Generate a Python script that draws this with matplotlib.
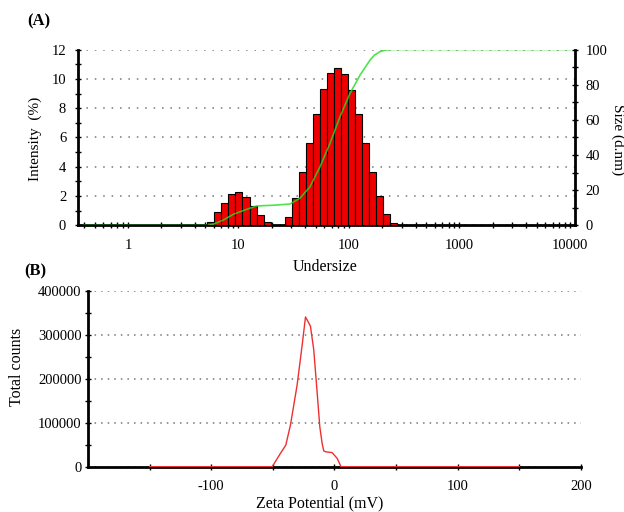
import matplotlib
matplotlib.use('Agg')
import matplotlib.pyplot as plt
import numpy as np
from matplotlib.ticker import FixedLocator, MultipleLocator, LogLocator, NullFormatter, FixedFormatter

plt.rcParams['font.family'] = ['Liberation Serif', 'DejaVu Serif']
plt.rcParams['axes.unicode_minus'] = False

# ---------------- Panel A data ----------------
size_nm = [5.615, 6.503, 7.531, 8.721, 10.10, 11.70, 13.54, 15.69, 18.17,
           24.36, 28.21, 32.67, 37.84, 43.82, 50.75, 58.77, 68.06, 78.82,
           91.28, 105.7, 122.4, 141.8, 164.2, 190.1, 220.2, 255.0]
intensity_pct = [0.26, 0.9, 1.51, 2.13, 2.26, 1.96, 1.35, 0.72, 0.22,
                 0.03, 0.6, 1.9, 3.63, 5.6, 7.6, 9.3, 10.37, 10.74,
                 10.33, 9.24, 7.58, 5.6, 3.65, 2.0, 0.8, 0.15]
bin_ratio = 1.158

cum_size = [0.4, 5.3, 5.9, 7.3, 9.0, 11.9, 14.6, 20.7, 29.2, 36.0, 44.4,
            54.7, 67.3, 82.9, 102, 126, 155, 170, 191, 210, 235, 10000]
cum_pct = [0, 0, 0.7, 3.1, 6.4, 9.2, 11.1, 11.5, 12.2, 15.5, 22,
           33.4, 46.7, 61.8, 75, 85.5, 94, 96.8, 98.8, 99.6, 100, 100]

a_xticks = [1, 10, 100, 1000, 10000]
a_xticklabels = ['1', '10', '100', '1000', '10000']
a_yticks = [0, 2, 4, 6, 8, 10, 12]
a_rticks = [0, 20, 40, 60, 80, 100]

# ---------------- Panel B data ----------------
zeta_mv = [-150, -50.5, -43.8, -39.5, -35.7, -30.3, -26.2, -23.5, -20.8,
           -19.5, -16.8, -14, -11.9, -10, -8.7, -7.3, -1.9, 2.2, 5.3, 150]
total_counts = [0, 0, 30500, 49000, 95000, 186000, 277000, 341000, 327000,
                320000, 266000, 167000, 91000, 53000, 36000, 34000, 32000,
                19000, 0, 0]
b_xticks = [-100, 0, 100, 200]
b_xminor = [-150, -50, 50, 150]
b_yticks = [0, 100000, 200000, 300000, 400000]

fig = plt.figure(figsize=(6.24, 5.12), dpi=100)

# ---------------- Panel A ----------------
axA = fig.add_axes([0.125, 0.5596, 0.7965, 0.3437])
s = np.array(size_nm)
left = s / np.sqrt(bin_ratio)
width = s * np.sqrt(bin_ratio) - left
axA.bar(left, intensity_pct, width=width, align='edge', color='#ee0000',
        edgecolor='black', linewidth=0.8, zorder=3)
axA.set_xscale('log')
axA.set_xlim(0.353, 11100)
axA.set_ylim(0, 12)
axA.yaxis.grid(True, linestyle=(0, (1, 4.5)), color='#777777', linewidth=1.1)
axA.set_axisbelow(True)
axA.xaxis.set_major_locator(FixedLocator(a_xticks))
axA.xaxis.set_major_formatter(FixedFormatter(a_xticklabels))
axA.xaxis.set_minor_locator(LogLocator(base=10, subs=np.arange(2, 10)))
axA.xaxis.set_minor_formatter(NullFormatter())
axA.yaxis.set_major_locator(FixedLocator(a_yticks))
axA.yaxis.set_minor_locator(MultipleLocator(1))
axA.tick_params(axis='both', which='major', direction='inout', length=5, width=1, labelsize=10.5)
axA.tick_params(axis='both', which='minor', direction='inout', length=4, width=1)
axA.tick_params(axis='x', pad=7)
axA.tick_params(axis='y', pad=6)
for sp in ['left', 'bottom']:
    axA.spines[sp].set_linewidth(2)
axA.spines['top'].set_visible(False)
axA.spines['right'].set_visible(False)
axA.set_ylabel('Intensity  (%)', fontsize=11, va='center')
axA.yaxis.set_label_coords(-0.087, 0.49)
axA.set_xlabel('Undersize', fontsize=11.5, va='center')
axA.xaxis.set_label_coords(0.497, -0.236)

axR = axA.twinx()
axR.plot(cum_size, cum_pct, color='#22dd22', linewidth=1.2, alpha=0.8, zorder=4)
axR.set_ylim(0, 100)
axR.yaxis.set_major_locator(FixedLocator(a_rticks))
axR.yaxis.set_minor_locator(MultipleLocator(10))
axR.tick_params(axis='y', which='major', direction='inout', length=5, width=1, labelsize=10.5, pad=5)
axR.tick_params(axis='y', which='minor', direction='inout', length=4, width=1)
for sp in ['top', 'left', 'bottom']:
    axR.spines[sp].set_visible(False)
axR.spines['right'].set_linewidth(2)
axR.set_ylabel('Size (d.nm)', fontsize=11, rotation=270, va='center')
axR.yaxis.set_label_coords(1.085, 0.49)

fig.text(0.043, 0.959, '(A)', fontsize=12, fontweight='bold', va='center', ha='left')

# ---------------- Panel B ----------------
axB = fig.add_axes([0.141, 0.0885, 0.79, 0.3431])
axB.plot(zeta_mv, total_counts, color='#ee3030', linewidth=1.0, zorder=3)
axB.set_xlim(-200, 200)
axB.set_ylim(0, 400000)
axB.yaxis.grid(True, linestyle=(0, (1, 3.3)), color='#777777', linewidth=1.1)
axB.set_axisbelow(True)
axB.xaxis.set_major_locator(FixedLocator(b_xticks))
axB.xaxis.set_minor_locator(FixedLocator(b_xminor))
axB.yaxis.set_major_locator(FixedLocator(b_yticks))
axB.yaxis.set_major_formatter(FixedFormatter([str(v) for v in b_yticks]))
axB.yaxis.set_minor_locator(MultipleLocator(50000))
axB.tick_params(axis='both', which='major', direction='inout', length=5, width=1, labelsize=10.5)
axB.tick_params(axis='both', which='minor', direction='inout', length=5, width=1)
axB.tick_params(axis='x', pad=7)
axB.tick_params(axis='y', pad=2)
for sp in ['left', 'bottom']:
    axB.spines[sp].set_linewidth(2)
axB.spines['top'].set_visible(False)
axB.spines['right'].set_visible(False)
axB.set_ylabel('Total counts', fontsize=11.5, va='center')
axB.yaxis.set_label_coords(-0.144, 0.57)
axB.set_xlabel('Zeta Potential (mV)', fontsize=11.5, va='center')
axB.xaxis.set_label_coords(0.47, -0.207)

fig.text(0.039, 0.469, '(B)', fontsize=12, fontweight='bold', va='center', ha='left')

fig.savefig('out.png', dpi=100)
